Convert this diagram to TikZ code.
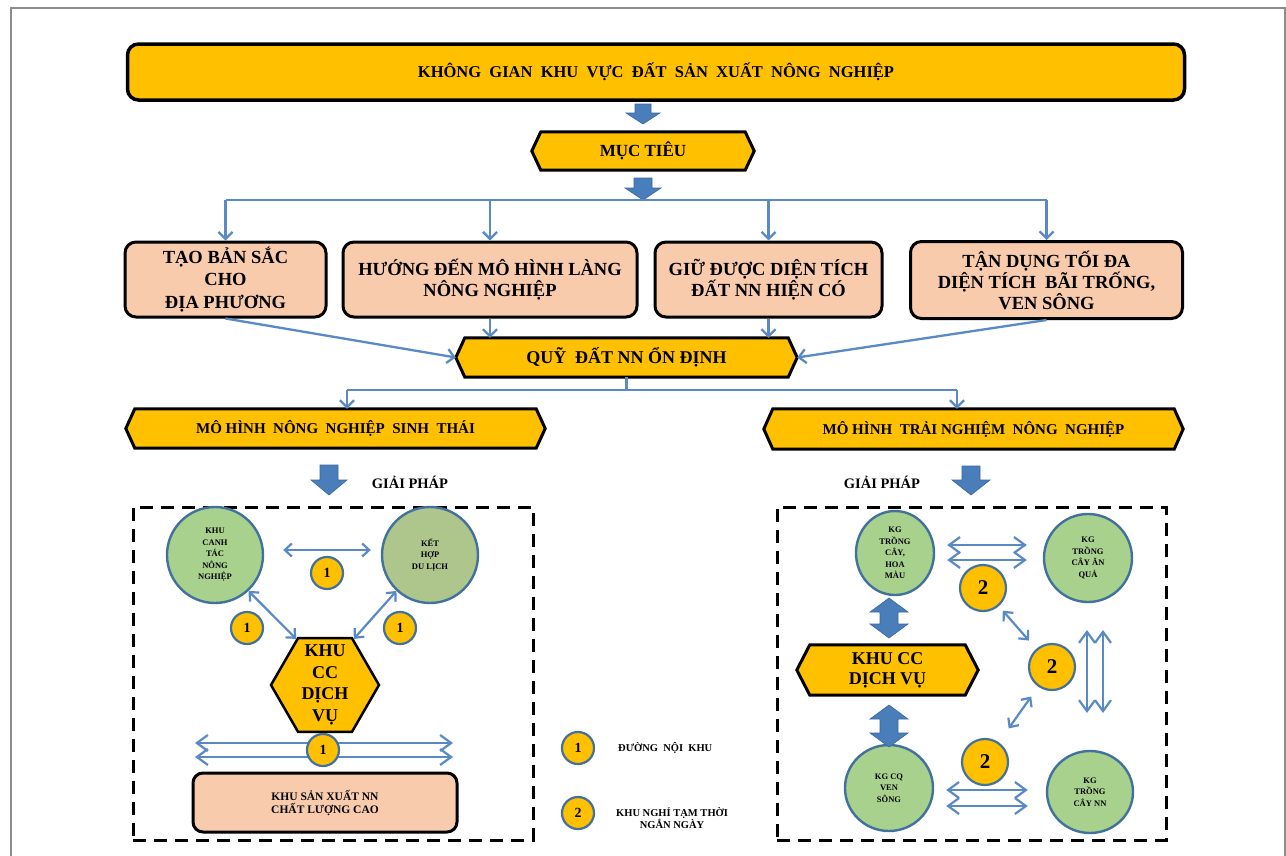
\documentclass[tikz,border=0pt]{standalone}
\usepackage{fontspec}
\setmainfont{Liberation Serif}
\usetikzlibrary{arrows.meta,shapes.geometric,backgrounds,calc}

\definecolor{gold}{HTML}{FFC000}
\definecolor{peach}{HTML}{F8CBAD}
\definecolor{leaf}{HTML}{A9D18E}
\definecolor{olive}{HTML}{AEC58B}
\definecolor{rim}{HTML}{41719C}
\definecolor{wire}{HTML}{5A8AC6}
\definecolor{blockblue}{HTML}{4A7EBB}
\definecolor{blockedge}{HTML}{3B679C}
\definecolor{pagegray}{HTML}{8C8C8C}

\newcommand\setfs[2]{\fontsize{#1}{#2}\selectfont}

\tikzset{
  every node/.style={align=center, inner sep=0pt},
  banner/.style={rectangle, rounded corners=11pt, draw=black, line width=3.5pt, fill=gold},
  goalbox/.style={rectangle, rounded corners=11pt, draw=black, line width=3pt, fill=peach},
  tagfill/.style={fill=gold, draw=black, line width=3pt, line join=miter},
  wire/.style={draw=wire, line width=2.3pt},
  wirearrow/.style={wire, -{Straight Barb[length=7pt,width=14pt,line width=2.3pt]}},
  twoway/.style={wire, line width=2.2pt, {Straight Barb[length=7pt,width=13pt]}-{Straight Barb[length=7pt,width=13pt]}},
  road/.style={wire, line width=2.2pt, {Straight Barb[length=11pt,width=16pt]}-{Straight Barb[length=11pt,width=16pt]}},
  zone/.style={rectangle, draw=black, line width=3pt, dash pattern=on 13pt off 8pt},
  field/.style={ellipse, draw=rim, line width=2.4pt, fill=leaf, font=\bfseries\setfs{8.5}{11.5}},
  badge/.style={circle, draw=rim, line width=2.2pt, fill=gold, minimum size=32pt, font=\bfseries\setfs{14}{14}},
  bigbadge/.style={circle, draw=rim, line width=2.2pt, fill=gold, minimum size=46pt, font=\bfseries\setfs{21}{21}},
  hexzone/.style={regular polygon, regular polygon sides=6, minimum size=108pt, draw=black, line width=2.5pt, fill=gold},
  pagerule/.style={draw=pagegray, line width=2pt},
  blockarrow/.style={fill=blockblue, draw=blockedge, line width=0.6pt, line join=miter},
}

% label with pointed left and right ends: name, x, y, width, height, point depth, font, text
\newcommand\tagnode[8]{%
  \node[minimum width=#4pt, minimum height=#5pt, font=\bfseries#7] (#1) at (#2,#3) {#8};
  \begin{scope}[on background layer]
    \path[tagfill] ([xshift=#6pt]#1.north west) -- ([xshift=-#6pt]#1.north east) -- (#1.east)
      -- ([xshift=-#6pt]#1.south east) -- ([xshift=#6pt]#1.south west) -- (#1.west) -- cycle;
  \end{scope}}

% solid block arrow pointing down: x, y top, y tip, shaft half width, head half width, head length
\newcommand\downblock[6]{%
  \path[blockarrow] ({#1-#4},#2) -- ({#1+#4},#2) -- ({#1+#4},{#3-#6}) -- ({#1+#5},{#3-#6})
    -- (#1,#3) -- ({#1-#5},{#3-#6}) -- ({#1-#4},{#3-#6}) -- cycle;}

% solid block arrow with heads at both ends: x, y top, y bottom, shaft half, head half, head length
\newcommand\updownblock[6]{%
  \path[blockarrow] (#1,#2) -- ({#1+#5},{#2+#6}) -- ({#1+#4},{#2+#6}) -- ({#1+#4},{#3-#6})
    -- ({#1+#5},{#3-#6}) -- (#1,#3) -- ({#1-#5},{#3-#6}) -- ({#1-#4},{#3-#6})
    -- ({#1-#4},{#2+#6}) -- ({#1-#5},{#2+#6}) -- cycle;}

\begin{document}
\begin{tikzpicture}[x=1pt,y=-1pt]
\useasboundingbox (0,0) rectangle (1286,855);
\begin{scope}[on background layer]
  \fill[white] (0,0) rectangle (1286,855);
\end{scope}
\draw[pagerule] (11,857) -- (11,8) -- (1285,8) -- (1285,857);

% ---------- heading and goals ----------
\node[banner, minimum width=1057pt, minimum height=56pt, font=\bfseries\setfs{16.5}{19}] (top) at (656,72)
  {KHÔNG~ GIAN~ KHU~ VỰC~ ĐẤT~ SẢN~ XUẤT~ NÔNG~ NGHIỆP};

\tagnode{mt}{643}{151}{222}{38}{9}{\setfs{17}{19}}{MỤC TIÊU}
\downblock{643}{104}{124}{8}{17}{11}
\downblock{643}{178}{200}{9}{18}{12}

\coordinate (bus) at (643,200);

\node[goalbox, minimum width=201pt, minimum height=75pt, font=\bfseries\setfs{18.5}{22.5}] (b1) at (225.5,279.5)
  {TẠO BẢN SẮC\\CHO\\ĐỊA PHƯƠNG};
\node[goalbox, minimum width=294pt, minimum height=75pt, font=\bfseries\setfs{18.5}{20.5}] (b2) at (490,279.5)
  {HƯỚNG ĐẾN MÔ HÌNH LÀNG\\NÔNG NGHIỆP};
\node[goalbox, minimum width=227pt, minimum height=75pt, font=\bfseries\setfs{18.5}{20.5}] (b3) at (768.5,279.5)
  {GIỮ ĐƯỢC DIỆN TÍCH\\ĐẤT NN HIỆN CÓ};
\node[goalbox, minimum width=272pt, minimum height=77pt, font=\bfseries\setfs{18.5}{21}] (b4) at (1046.5,280)
  {TẬN DỤNG TỐI ĐA\\DIỆN TÍCH~ BÃI TRỐNG,\\VEN SÔNG};

\draw[wire] (b1.north |- bus) -- (b4.north |- bus);
\foreach \b in {b1,b2,b3,b4}
  \draw[wirearrow] (\b.north |- bus) -- (\b.north);

\tagnode{q}{626.5}{357.5}{341}{39}{9}{\setfs{18}{20}}{QUỸ~ ĐẤT NN ỔN ĐỊNH}
\draw[wirearrow] (b1.south) -- (q.west);
\draw[wirearrow] (b2.south) -- (b2.south |- q.north);
\draw[wirearrow] (b3.south) -- (b3.south |- q.north);
\draw[wirearrow] (b4.south) -- (q.east);

% ---------- the two models ----------
\tagnode{h1}{335.5}{428.5}{419}{39}{9}{\setfs{15}{17}}{MÔ HÌNH~ NÔNG~ NGHIỆP~ SINH~ THÁI}
\tagnode{h2}{973.5}{429}{419}{40}{9}{\setfs{15}{17}}{MÔ HÌNH~ TRẢI NGHIỆM~ NÔNG~ NGHIỆP}

\coordinate (split) at (626.5,390);
\coordinate (jl) at (347,390);
\coordinate (jr) at (957,390);
\draw[wire] (q.south) -- (split);
\draw[wire] (jl) -- (jr);
\draw[wirearrow] (jl) -- (jl |- h1.north);
\draw[wirearrow] (jr) -- (jr |- h2.north);

\downblock{329}{465}{495}{9}{18}{15}
\node[font=\bfseries\setfs{14.5}{16}] (gp1) at (410,482) {GIẢI PHÁP};
\downblock{971}{466}{495}{9}{19}{15}
\node[font=\bfseries\setfs{14.5}{16}] (gp2) at (882,482) {GIẢI PHÁP};

% ---------- ecological farming solution ----------
\node[zone, minimum width=400pt, minimum height=333pt] (zl) at (333,673.5) {};

\node[field, minimum size=96pt] (k1) at (215,555) {KHU\\CANH\\TÁC\\NÔNG\\NGHIỆP};
\node[field, fill=olive, minimum size=96pt] (k2) at (430,555) {KẾT\\HỢP\\DU LỊCH};
\node[badge] (n1) at (327,573) {1};
\draw[twoway] ($(k1.east)+(19,-5)$) -- ($(k1.east -| k2.west)+(-10,-5)$);

\node[hexzone] (cc1) at (325,685) {};
\node[font=\bfseries\setfs{18}{21.7}] (cc1t) at (cc1.center) {KHU\\CC\\DỊCH\\VỤ};
\node[badge] (n2) at (247,628) {1};
\node[badge] (n3) at (400,628) {1};
\draw[twoway] (k1.-47) -- (cc1.122);
\draw[twoway] (k2.227) -- (cc1.58);

\coordinate (roadl) at (195,750);
\coordinate (roadr) at (453,750);
\draw[road] ($(roadl)+(0,-7)$) -- ($(roadr)+(0,-7)$);
\draw[road] ($(roadl)+(0,7)$) -- ($(roadr)+(0,7)$);
\node[badge] (n4) at (323,750) {1};

\node[goalbox, rounded corners=10pt, minimum width=264pt, minimum height=59pt, font=\bfseries\setfs{11.5}{13}] (prod) at (325,802.5)
  {KHU SẢN XUẤT NN\\CHẤT LƯỢNG CAO};

% ---------- legend ----------
\node[badge] (lg1) at (578,748) {1};
\node[anchor=west, font=\bfseries\setfs{10.5}{12.5}] (lg1t) at (618,748) {ĐƯỜNG~ NỘI~ KHU};
\node[badge] (lg2) at (578,813) {2};
\node[anchor=west, font=\bfseries\setfs{10.5}{12.5}] (lg2t) at (616,818) {KHU NGHỈ TẠM THỜI\\NGẮN NGÀY};

% ---------- farm experience solution ----------
\node[zone, minimum width=389pt, minimum height=333pt] (zr) at (971.5,673.5) {};

\node[field, minimum width=78pt, minimum height=84pt] (c1) at (895,553) {KG\\TRỒNG\\CÂY,\\HOA\\MÀU};
\node[field, minimum size=88pt] (c2) at (1088,558) {KG\\TRỒNG\\CÂY ĂN\\QUẢ};
\node[field, minimum width=88pt, minimum height=86pt] (c3) at (889,788) {KG CQ\\VEN\\SÔNG};
\node[field, minimum width=86pt, minimum height=82pt] (c4) at (1090,792) {KG\\TRỒNG\\CÂY NN};

\tagnode{cc2}{887.5}{670}{181}{50}{13}{\setfs{18}{20}}{KHU CC\\DỊCH VỤ}
\updownblock{889}{598}{638}{9}{19}{14}
\updownblock{889}{705}{747}{9}{19}{14}

\node[bigbadge] (ra) at (983,588) {2};
\node[bigbadge] (rb) at (1052,667) {2};
\node[bigbadge] (rc) at (985,762) {2};

\draw[road] ($(c1.east)+(12,-8)$) -- ($(c1.east -| c2.west)+(-16,-8)$);
\draw[road] ($(c1.east)+(12,7)$) -- ($(c1.east -| c2.west)+(-16,7)$);
\draw[road] ($(c3.east)+(12,2)$) -- ($(c3.east -| c4.west)+(-18,2)$);
\draw[road] ($(c3.east)+(12,18)$) -- ($(c3.east -| c4.west)+(-18,18)$);

\coordinate (vt) at (1095,630);
\coordinate (vb) at (1095,713);
\draw[road] ($(vt)+(-8,0)$) -- ($(vb)+(-8,0)$);
\draw[road] ($(vt)+(8,0)$) -- ($(vb)+(8,0)$);

\draw[twoway, shorten <=6pt, shorten >=11pt] (ra) -- (rb);
\draw[twoway, shorten <=12pt, shorten >=17pt] (rb) -- (rc);
\end{tikzpicture}
\end{document}
